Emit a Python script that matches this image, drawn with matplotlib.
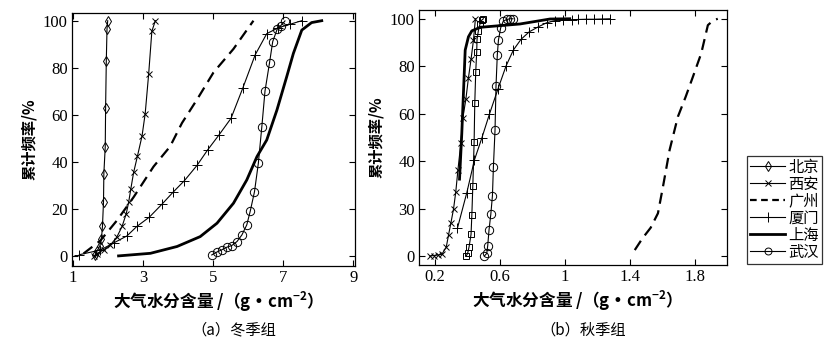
import matplotlib
matplotlib.use("Agg")
import matplotlib.pyplot as plt
from matplotlib.lines import Line2D

plt.rcParams['font.family'] = ['Noto Sans CJK SC', 'DejaVu Sans']
plt.rcParams['mathtext.fontset'] = 'dejavusans'

# ---- (a) winter group ----
a_beijing_x = [1.64, 1.68, 1.76, 1.81, 1.84, 1.87, 1.88, 1.92, 1.93, 1.95, 1.97, 1.99]
a_beijing_y = [0.5, 2, 4, 7, 12.5, 23, 35, 46.5, 63, 83, 96.5, 100]
a_xian_x = [1.60, 1.68, 1.87, 2.06, 2.25, 2.40, 2.52, 2.59, 2.65, 2.73, 2.84, 2.97, 3.06, 3.16, 3.25, 3.35]
a_xian_y = [0, 1, 2.5, 4.5, 8, 12.5, 18, 23, 28.5, 35.5, 42.5, 51, 60.5, 77.5, 95.5, 100]
a_guangzhou_x = [1.30, 1.78, 2.25, 2.73, 3.30, 3.77, 4.11, 4.54, 5.01, 5.58, 6.15]
a_guangzhou_y = [1, 6.5, 15, 25, 38, 46.5, 56.5, 66.5, 78, 88, 100]
a_xiamen_x = [1.18, 1.78, 2.16, 2.54, 2.82, 3.18, 3.54, 3.85, 4.18, 4.54, 4.84, 5.17,
              5.51, 5.85, 6.20, 6.53, 6.86, 7.20, 7.53]
a_xiamen_y = [0.5, 2.5, 5.5, 8.5, 12.5, 16.5, 22, 27, 32, 38.5, 45, 51.5,
              58.5, 71.5, 85.5, 94.5, 97, 98.5, 100]
a_shanghai_x = [2.30, 3.21, 3.97, 4.63, 5.11, 5.58, 5.96, 6.25, 6.53, 6.82, 7.10, 7.29, 7.53, 7.81, 8.10]
a_shanghai_y = [0, 1.1, 4.0, 8.2, 13.9, 22.4, 32.3, 42.2, 49.3, 62, 76.2, 86.1, 96, 99.2, 100]
a_wuhan_x = [4.96, 5.10, 5.25, 5.39, 5.53, 5.68, 5.82, 5.96, 6.06, 6.18, 6.29, 6.39,
             6.48, 6.61, 6.70, 6.83, 6.93, 7.05]
a_wuhan_y = [0.4, 1.6, 2.6, 3.7, 4.4, 6.1, 8.9, 13.2, 19.1, 27.3, 39.4, 55,
             70.1, 82.2, 91.1, 96.5, 97.9, 99.9]

# ---- (b) autumn group ----
b_beijing_x = [0.391, 0.400, 0.409, 0.421, 0.426, 0.432, 0.440, 0.444, 0.450, 0.456,
               0.458, 0.466, 0.477, 0.487, 0.497]
b_beijing_y = [0, 1.1, 3.9, 9.1, 17.3, 29.6, 47.9, 64.3, 77.7, 86.1, 91.3, 94.9, 98, 99.4, 100]
b_xian_x = [0.165, 0.19, 0.215, 0.241, 0.268, 0.282, 0.297, 0.313, 0.327, 0.340, 0.358,
            0.370, 0.389, 0.405, 0.421, 0.436, 0.448]
b_xian_y = [0, 0.2, 0.4, 0.7, 3.7, 8.8, 14, 19.8, 27.1, 36.2, 47.5, 58, 66, 75.1, 82.9, 91, 100]
b_guangzhou_x = [1.431, 1.478, 1.529, 1.574, 1.605, 1.646, 1.697, 1.745, 1.790, 1.841, 1.882, 1.913, 1.943]
b_guangzhou_y = [2.5, 7.4, 11.9, 18, 29.2, 44.7, 58.7, 67.1, 75.6, 85.4, 97.3, 99.2, 100]
b_xiamen_x = [0.337, 0.395, 0.442, 0.487, 0.534, 0.586, 0.637, 0.682, 0.729, 0.780, 0.836,
              0.887, 0.938, 0.99, 1.041, 1.082, 1.133, 1.178, 1.23, 1.281]
b_xiamen_y = [11.7, 26.7, 40.5, 49.6, 59.7, 70.2, 80.1, 86.8, 91.3, 94.5, 96.6,
              98.3, 99.2, 99.6, 99.6, 99.7, 99.8, 99.8, 99.9, 100]
b_shanghai_x = [0.350, 0.364, 0.385, 0.405, 0.426, 0.477, 0.723, 0.908, 1.03]
b_shanghai_y = [32.4, 51.7, 86.8, 92.4, 94.9, 96.4, 97.8, 99.9, 100]
b_wuhan_x = [0.503, 0.518, 0.524, 0.532, 0.543, 0.553, 0.559, 0.569, 0.575, 0.583, 0.590,
             0.604, 0.620, 0.641, 0.662, 0.680]
b_wuhan_y = [0, 1.1, 4.4, 11, 17.6, 25.4, 37.6, 53.1, 71.6, 84.7, 91, 96.2, 99, 99.7, 100, 100]

a_xticks = [1, 3, 5, 7, 9]
b_xticks = [0.2, 0.6, 1.0, 1.4, 1.8]
b_xticklabels = ['0.2', '0.6', '1', '1.4', '1.8']
yticks = [0, 20, 40, 60, 80, 100]
b_yticklabels = ['0', '30', '40', '60', '80', '100']
names = ['北京', '西安', '广州', '厦门', '上海', '武汉']

XLABEL = '大气水分含量 /（g • cm$^{\\mathregular{-2}}$）'
YLABEL = '累计频率/%'

fig = plt.figure(figsize=(8.34, 3.48), dpi=100)
ax1 = fig.add_axes([0.0863, 0.2356, 0.3394, 0.7279])
ax2 = fig.add_axes([0.5024, 0.2385, 0.3693, 0.7328])

thin = dict(color='black', lw=0.8, mfc='none', mec='black', mew=0.7)


def draw(ax, d):
    bj = ax.plot(d[0][0], d[0][1], marker=d[6], ms=5, **thin)[0]
    xa = ax.plot(d[1][0], d[1][1], marker='x', ms=4, **thin)[0]
    gz = ax.plot(d[2][0], d[2][1], ls=(0, (5, 3)), lw=1.6, color='black')[0]
    xm = ax.plot(d[3][0], d[3][1], marker='+', ms=7, **thin)[0]
    sh = ax.plot(d[4][0], d[4][1], lw=2.0, color='black')[0]
    wh = ax.plot(d[5][0], d[5][1], marker='o', ms=6, **thin)[0]
    return [bj, xa, gz, xm, sh, wh]


draw(ax1, [(a_beijing_x, a_beijing_y), (a_xian_x, a_xian_y), (a_guangzhou_x, a_guangzhou_y),
           (a_xiamen_x, a_xiamen_y), (a_shanghai_x, a_shanghai_y), (a_wuhan_x, a_wuhan_y), 'd'])
draw(ax2, [(b_beijing_x, b_beijing_y), (b_xian_x, b_xian_y), (b_guangzhou_x, b_guangzhou_y),
           (b_xiamen_x, b_xiamen_y), (b_shanghai_x, b_shanghai_y), (b_wuhan_x, b_wuhan_y), 's'])

ax1.set_xlim(0.97, 9.05)
ax1.set_ylim(-4.3, 103.4)
ax1.set_xticks(a_xticks)
ax1.set_xticklabels([str(v) for v in a_xticks])
ax2.set_xlim(0.10, 2.0)
ax2.set_ylim(-3.8, 103.7)
ax2.set_xticks(b_xticks)
ax2.set_xticklabels(b_xticklabels)

for ax, ylabels in ((ax1, [str(v) for v in yticks]), (ax2, b_yticklabels)):
    ax.set_yticks(yticks)
    ax.set_yticklabels(ylabels)
    for lbl in ax.get_xticklabels() + ax.get_yticklabels():
        lbl.set_fontfamily('Liberation Serif')
        lbl.set_fontsize(12)
    ax.tick_params(direction='in', top=True, right=True, length=4, width=0.8, pad=3)
    for s in ax.spines.values():
        s.set_linewidth(0.9)
    ax.set_xlabel(XLABEL, fontsize=12, fontweight='bold', labelpad=3)
    ax.set_ylabel(YLABEL, fontsize=11, fontweight='bold', labelpad=4)

# legend uses the marker styles of the key (diamond for Beijing)
handles = [
    Line2D([], [], marker='d', ms=5, **thin),
    Line2D([], [], marker='x', ms=4, **thin),
    Line2D([], [], ls=(0, (3, 2)), lw=1.6, color='black'),
    Line2D([], [], marker='+', ms=7, **thin),
    Line2D([], [], lw=2.0, color='black'),
    Line2D([], [], marker='o', ms=5, **thin),
]
leg = fig.legend(handles, names, loc='upper left', bbox_to_anchor=(0.896, 0.553),
                 fontsize=11, frameon=True, fancybox=False, edgecolor='black',
                 handlelength=2.3, handletextpad=0.2, labelspacing=0.0,
                 borderpad=0.2, borderaxespad=0)
leg.get_frame().set_linewidth(0.9)

fig.text(0.28, 0.052, '（a）冬季组', ha='center', va='center', fontsize=11)
fig.text(0.699, 0.052, '（b）秋季组', ha='center', va='center', fontsize=11)

fig.savefig('out.png', dpi=100)
